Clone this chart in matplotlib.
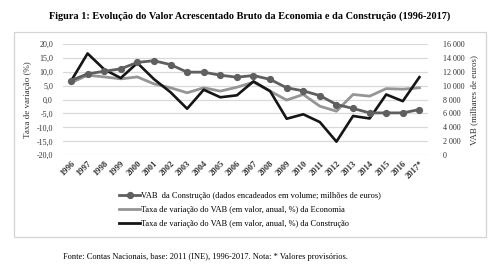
import matplotlib
matplotlib.use("Agg")
import matplotlib.pyplot as plt
from matplotlib.lines import Line2D
from matplotlib.patches import Rectangle
from matplotlib.ticker import FuncFormatter

plt.rcParams['font.family'] = ['Liberation Serif', 'DejaVu Serif']

anos = ['1996', '1997', '1998', '1999', '2000', '2001', '2002', '2003', '2004', '2005',
        '2006', '2007', '2008', '2009', '2010', '2011', '2012', '2013', '2014', '2015',
        '2016', '2017*']

# VAB da Construção (milhões de euros, eixo da direita)
vab_construcao = [10720, 11680, 12040, 12400, 13320, 13560, 13000, 11920, 11920, 11480,
                  11200, 11440, 10880, 9680, 9240, 8560, 7280, 6720, 6080, 6080,
                  6080, 6560]
# Taxa de variação do VAB da Economia (%)
taxa_economia = [6.0, 8.7, 8.1, 7.4, 8.1, 5.6, 4.2, 2.4, 4.2, 3.0,
                 4.4, 6.2, 3.0, -0.2, 1.8, -2.4, -4.2, 1.8, 1.2, 3.9,
                 3.7, 4.2]
# Taxa de variação do VAB da Construção (%)
taxa_construcao = [6.6, 16.5, 10.8, 7.7, 13.1, 7.3, 2.6, -3.3, 3.5, 0.8,
                   1.5, 6.5, 3.0, -6.9, -5.3, -8.1, -15.1, -5.9, -6.8, 1.8,
                   -0.6, 8.0]

c_vab = '#5f5f5f'
c_eco = '#959595'
c_con = '#151515'
grid_c = '#d9d9d9'

fig = plt.figure(figsize=(5, 2.68), dpi=100)

# moldura exterior
fig.patches.append(Rectangle((14 / 500, 1 - 237 / 268), 472 / 500, 205 / 268,
                             transform=fig.transFigure, fill=False,
                             edgecolor='#d4d4d4', linewidth=0.9))

fig.text(0.5, 1 - 16 / 268,
         'Figura 1: Evolução do Valor Acrescentado Bruto da Economia e da Construção (1996-2017)',
         ha='center', va='center', fontsize=7.4, fontweight='bold')

ax = fig.add_axes([62.7 / 500, 1 - 155.3 / 268, 365 / 500, 111.6 / 268])
ax2 = ax.twinx()

x = list(range(len(anos)))
ax.plot(x, taxa_economia, color=c_eco, linewidth=2.0, zorder=3)
ax.plot(x, taxa_construcao, color=c_con, linewidth=1.9, zorder=4)
ax2.plot(x, vab_construcao, color=c_vab, linewidth=2.0, marker='o',
         markersize=4.2, zorder=3)

ax.set_ylim(-20, 20)
ax.set_yticks(range(-20, 21, 5))
ax2.set_ylim(0, 16000)
ax2.set_yticks(range(0, 16001, 2000))
ax.set_xlim(-0.5, len(anos) - 0.5)

ax.yaxis.set_major_formatter(FuncFormatter(lambda v, p: f'{v:.1f}'.replace('.', ',')))
ax2.yaxis.set_major_formatter(FuncFormatter(lambda v, p: f'{int(v):,}'.replace(',', ' ')))

ax.grid(axis='y', color=grid_c, linewidth=0.9)
ax.set_axisbelow(True)
for a in (ax, ax2):
    for s in a.spines.values():
        s.set_visible(False)
    a.tick_params(length=0, labelsize=5.8, colors='#333333')

ax.tick_params(axis='y', pad=7)
ax2.tick_params(axis='y', pad=11)
ax.set_xticks(x)
ax.set_xticklabels(anos, rotation=45, ha='right', rotation_mode='anchor',
                   fontweight='bold', fontsize=6.2)
ax.tick_params(axis='x', pad=3)

ax.set_ylabel('Taxa de variação (%)', fontsize=6.5, color='#333333', labelpad=3)
ax2.set_ylabel('VAB (milhares de euros)', fontsize=6.5, color='#333333', labelpad=4,
               rotation=90)

handles = [
    Line2D([], [], color=c_vab, linewidth=2.0, marker='o', markersize=4.2),
    Line2D([], [], color=c_eco, linewidth=2.0),
    Line2D([], [], color=c_con, linewidth=2.0),
]
labels = [
    'VAB  da Construção (dados encadeados em volume; milhões de euros)',
    'Taxa de variação do VAB (em valor, anual, %) da Economia',
    'Taxa de variação do VAB (em valor, anual, %) da Construção',
]
fig.legend(handles, labels, loc='center', bbox_to_anchor=(0.5, 1 - 210 / 268),
           frameon=False, fontsize=6.0, handlelength=2.6, handletextpad=0.1,
           labelspacing=0.75, borderpad=0)

fig.text(63 / 500, 1 - 257 / 268,
         'Fonte: Contas Nacionais, base: 2011 (INE), 1996-2017. Nota: * Valores provisórios.',
         ha='left', va='center', fontsize=6.0)

fig.savefig('out.png', dpi=100)
